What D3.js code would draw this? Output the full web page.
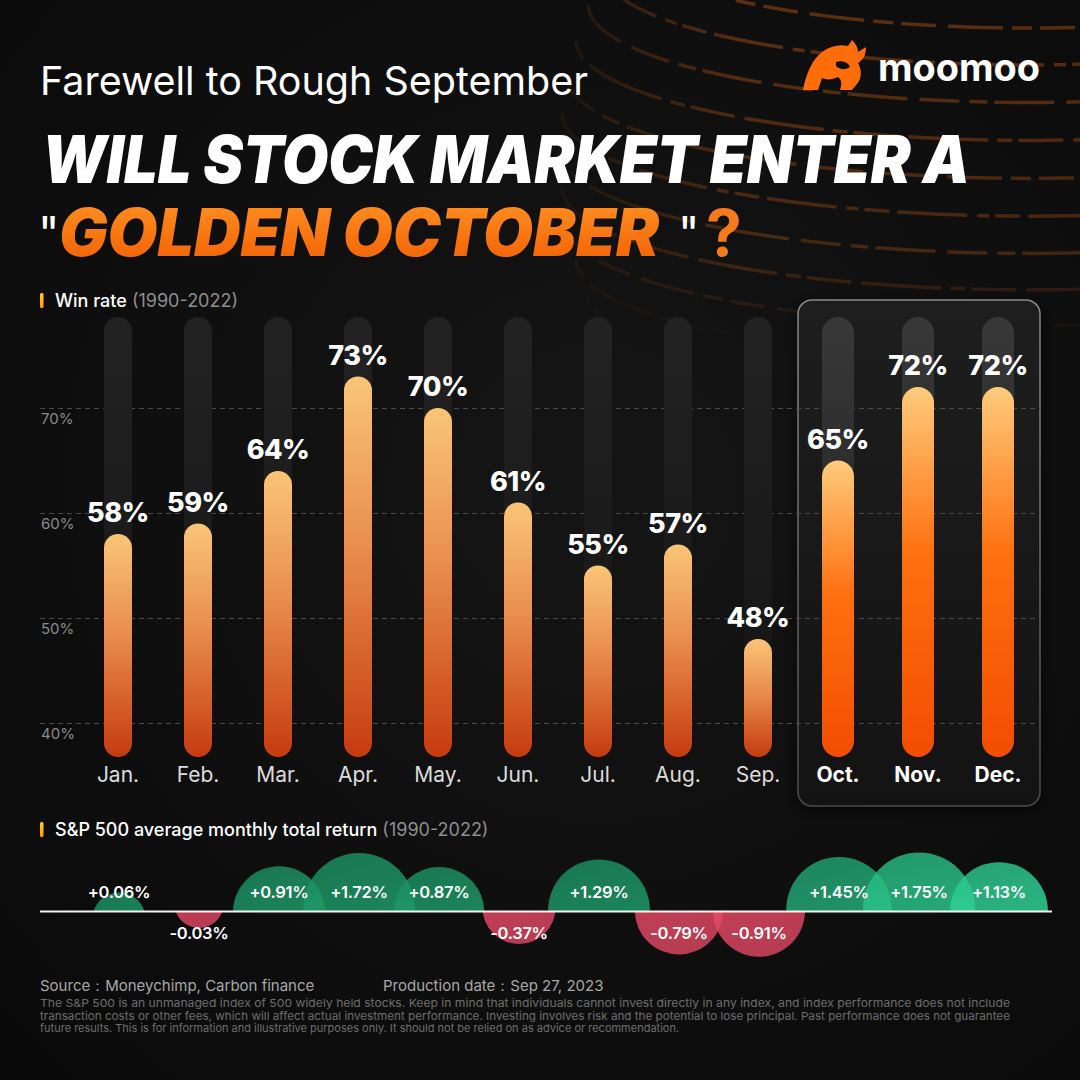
<!DOCTYPE html>
<html>
<head>
<meta charset="utf-8">
<script src="https://cdn.jsdelivr.net/npm/d3@7/dist/d3.min.js"></script>
<style>
  html, body { margin: 0; padding: 0; background: #0d0d0d; }
  svg { display: block; }
  text { font-family: Inter, "Noto Sans", sans-serif; }
</style>
</head>
<body>
<svg id="chart" width="1080" height="1080"></svg>
<script>
// ---------------- DATA ----------------
const months = ["Jan.", "Feb.", "Mar.", "Apr.", "May.", "Jun.", "Jul.", "Aug.", "Sep.", "Oct.", "Nov.", "Dec."];
const winRate = [58, 59, 64, 73, 70, 61, 55, 57, 48, 65, 72, 72];
const monthlyReturn = [0.06, -0.03, 0.91, 1.72, 0.87, -0.37, 1.29, -0.79, -0.91, 1.45, 1.75, 1.13];
const yTicks = [40, 50, 60, 70];
const highlightMonths = ["Oct.", "Nov.", "Dec."];
const subtitle = "Farewell to Rough September";
const titleLine1 = "WILL STOCK MARKET ENTER A";
const titleGolden = "GOLDEN OCTOBER";
const winRateTitle = "Win rate";
const spTitle = "S&P 500 average monthly total return";
const period = "(1990-2022)";
const sourceText = "Source\uFF1AMoneychimp, Carbon finance";
const dateText = "Production date\uFF1ASep 27, 2023";
const disclaimer = [
  "The S&P 500 is an unmanaged index of 500 widely held stocks. Keep in mind that individuals cannot invest directly in any index, and index performance does not include",
  "transaction costs or other fees, which will affect actual investment performance. Investing involves risk and the potential to lose principal. Past performance does not guarantee",
  "future results. This is for information and illustrative purposes only. It should not be relied on as advice or recommendation."
];

// ---------------- SETUP ----------------
const svg = d3.select("#chart");
const W = 1080, H = 1080;
const defs = svg.append("defs");

// background
const bgGrad = defs.append("radialGradient").attr("id", "bgGrad")
  .attr("cx", "55%").attr("cy", "45%").attr("r", "75%");
bgGrad.append("stop").attr("offset", "0%").attr("stop-color", "#151515");
bgGrad.append("stop").attr("offset", "100%").attr("stop-color", "#0a0a0a");
svg.append("rect").attr("width", W).attr("height", H).attr("fill", "url(#bgGrad)");

// decorative globe lines (top-right)
const fadeGrad = defs.append("linearGradient").attr("id", "fadeGrad")
  .attr("gradientUnits", "userSpaceOnUse").attr("x1", 0).attr("y1", 0).attr("x2", 0).attr("y2", 340);
fadeGrad.append("stop").attr("offset", "0%").attr("stop-color", "#fff").attr("stop-opacity", 1);
fadeGrad.append("stop").attr("offset", "75%").attr("stop-color", "#fff").attr("stop-opacity", 0.7);
fadeGrad.append("stop").attr("offset", "100%").attr("stop-color", "#fff").attr("stop-opacity", 0);
const fadeGradX = defs.append("linearGradient").attr("id", "fadeGradX")
  .attr("gradientUnits", "userSpaceOnUse").attr("x1", 520).attr("y1", 0).attr("x2", 740).attr("y2", 0);
fadeGradX.append("stop").attr("offset", "0%").attr("stop-color", "#fff").attr("stop-opacity", 0);
fadeGradX.append("stop").attr("offset", "100%").attr("stop-color", "#fff").attr("stop-opacity", 1);
const mask = defs.append("mask").attr("id", "globeMask");
mask.append("rect").attr("width", W).attr("height", 340).attr("fill", "url(#fadeGrad)");
const mask2 = defs.append("mask").attr("id", "globeMaskX");
mask2.append("rect").attr("width", W).attr("height", 340).attr("fill", "url(#fadeGradX)");

const globe = svg.append("g").attr("mask", "url(#globeMask)")
  .append("g").attr("mask", "url(#globeMaskX)");
const gcx = 1030, gcy = 150, gR = 470;
const dashes = ["40 10 18 7 60 12", "25 8 70 10 12 6", "55 9 20 8 35 12", "15 6 45 10 80 9"];
d3.range(-40, 86, 5).forEach((lat, i) => {
  const rad = lat * Math.PI / 180;
  const rx = gR * Math.cos(rad);
  const ry = rx * 0.22;
  const cy = gcy - gR * Math.sin(rad) * 0.9;
  const path = d3.path();
  const N = 60;
  for (let k = 0; k <= N; k++) {
    const a = Math.PI - (Math.PI * 0.75) * k / N;
    const px = gcx + rx * Math.cos(a);
    const py = cy + ry * Math.sin(a);
    if (k === 0) path.moveTo(px, py); else path.lineTo(px, py);
  }
  globe.append("path").attr("d", path.toString())
    .attr("fill", "none").attr("stroke", "#9a4a14").attr("stroke-opacity", 0.55)
    .attr("stroke-width", 3.5).attr("stroke-dasharray", dashes[i % dashes.length])
    .attr("stroke-dashoffset", (i * 37) % 90);
});

// ---------------- TITLES ----------------
svg.append("text").attr("x", 40).attr("y", 95)
  .attr("font-size", 40).attr("font-weight", 400).attr("fill", "#fff")
  .attr("textLength", 548).attr("lengthAdjust", "spacingAndGlyphs")
  .text(subtitle);

svg.append("text").attr("x", 42).attr("y", 183)
  .attr("font-size", 66).attr("font-weight", 900).attr("font-style", "italic").attr("fill", "#fff")
  .attr("textLength", 928).attr("lengthAdjust", "spacingAndGlyphs")
  .text(titleLine1);

const goldGrad = defs.append("linearGradient").attr("id", "goldGrad")
  .attr("x1", 0).attr("y1", 0).attr("x2", 0).attr("y2", 1);
goldGrad.append("stop").attr("offset", "0%").attr("stop-color", "#ff9526");
goldGrad.append("stop").attr("offset", "100%").attr("stop-color", "#f25c00");

svg.append("text").attr("x", 38).attr("y", 250)
  .attr("font-size", 46).attr("font-weight", 400).attr("fill", "#fff").text("\"");
svg.append("text").attr("x", 59).attr("y", 256)
  .attr("font-size", 66).attr("font-weight", 900).attr("font-style", "italic").attr("fill", "url(#goldGrad)")
  .attr("textLength", 600).attr("lengthAdjust", "spacingAndGlyphs")
  .text(titleGolden);
svg.append("text").attr("x", 678).attr("y", 250)
  .attr("font-size", 46).attr("font-weight", 400).attr("fill", "#fff").text("\"");
svg.append("text").attr("x", 706).attr("y", 256)
  .attr("font-size", 64).attr("font-weight", 700).attr("fill", "#f47a1c").text("?");

// ---------------- LOGO ----------------
const logo = svg.append("g");
logo.append("path")
  .attr("d", "M803,90 C806,74 812,60 822,52 C830,46 840,44 848,46 L852,40 C856,44 858,48 858,52 L866,47 C866,55 863,60 858,63 C862,70 862,78 857,84 L852,90 L840,90 C842,84 842,80 838,77 C832,80 826,80 822,78 L818,90 Z")
  .attr("fill", "#ff6d0a");
logo.append("path")
  .attr("d", "M836,62 C842,60 848,62 850,67 C846,70 840,70 836,66 Z")
  .attr("fill", "#0d0d0d");
logo.append("text").attr("x", 878).attr("y", 81)
  .attr("font-size", 38).attr("font-weight", 700).attr("fill", "#fff")
  .attr("textLength", 162).attr("lengthAdjust", "spacingAndGlyphs")
  .text("moomoo");

// ---------------- SECTION HEADERS ----------------
const markGrad = defs.append("linearGradient").attr("id", "markGrad")
  .attr("x1", 0).attr("y1", 0).attr("x2", 0).attr("y2", 1);
markGrad.append("stop").attr("offset", "0%").attr("stop-color", "#ffd21a");
markGrad.append("stop").attr("offset", "100%").attr("stop-color", "#ff9a00");

function header(yBase, main) {
  svg.append("rect").attr("x", 40).attr("y", yBase - 14).attr("width", 3.5).attr("height", 15)
    .attr("rx", 1.5).attr("fill", "url(#markGrad)");
  const t = svg.append("text").attr("x", 55).attr("y", yBase)
    .attr("font-size", 18).attr("font-weight", 500).attr("fill", "#fff");
  t.append("tspan").text(main);
  t.append("tspan").attr("fill", "#8e8e8e").attr("font-weight", 400).text(" " + period);
}
header(307, winRateTitle);
header(836, spTitle);

// ---------------- BAR CHART ----------------
const x = d3.scaleBand().domain(months).range([78, 1038]).padding(0);
const y = d3.scaleLinear().domain([40, 70]).range([723, 408]);
const barBottom = 757;
const trackTop = 317;
const isHi = m => highlightMonths.includes(m);
const barW = m => isHi(m) ? 32 : 28;
const cx = m => x(m) + x.bandwidth() / 2;

// highlight box
const boxFill = defs.append("linearGradient").attr("id", "boxFill")
  .attr("x1", 0).attr("y1", 0).attr("x2", 0).attr("y2", 1);
boxFill.append("stop").attr("offset", "0%").attr("stop-color", "#ffffff").attr("stop-opacity", 0.07);
boxFill.append("stop").attr("offset", "100%").attr("stop-color", "#ffffff").attr("stop-opacity", 0.025);
const boxStroke = defs.append("linearGradient").attr("id", "boxStroke")
  .attr("x1", 0).attr("y1", 0).attr("x2", 0).attr("y2", 1);
boxStroke.append("stop").attr("offset", "0%").attr("stop-color", "#8a8a8a");
boxStroke.append("stop").attr("offset", "100%").attr("stop-color", "#4a4a4a");
const shadow = defs.append("filter").attr("id", "boxShadow")
  .attr("x", "-20%").attr("y", "-10%").attr("width", "140%").attr("height", "120%");
shadow.append("feDropShadow").attr("dx", 0).attr("dy", 4).attr("stdDeviation", 8)
  .attr("flood-color", "#000").attr("flood-opacity", 0.7);

const hiFirst = highlightMonths[0], hiLast = highlightMonths[highlightMonths.length - 1];
svg.append("rect")
  .attr("x", x(hiFirst)).attr("y", 300)
  .attr("width", x(hiLast) + x.bandwidth() - x(hiFirst) + 2).attr("height", 506)
  .attr("rx", 14)
  .attr("fill", "#111").attr("filter", "url(#boxShadow)");
svg.append("rect")
  .attr("x", x(hiFirst)).attr("y", 300)
  .attr("width", x(hiLast) + x.bandwidth() - x(hiFirst) + 2).attr("height", 506)
  .attr("rx", 14)
  .attr("fill", "url(#boxFill)").attr("stroke", "url(#boxStroke)").attr("stroke-width", 1.5);

// grid + y labels via axis
const yAxis = svg.append("g").attr("transform", "translate(40,0)")
  .call(d3.axisRight(y).tickValues(yTicks).tickSize(1000).tickFormat(d => d + "%"));
yAxis.select(".domain").remove();
yAxis.selectAll(".tick line").attr("stroke", "#4a4a4a").attr("stroke-dasharray", "5,4").attr("stroke-width", 1);
yAxis.selectAll(".tick text").attr("x", 1).attr("dy", 15)
  .attr("fill", "#8a8a8a").attr("font-size", 15).attr("text-anchor", "start")
  .attr("font-family", "Inter, sans-serif");

// tracks
const trackGrad = defs.append("linearGradient").attr("id", "trackGrad")
  .attr("x1", 0).attr("y1", 0).attr("x2", 0).attr("y2", 1);
trackGrad.append("stop").attr("offset", "0%").attr("stop-color", "#222");
trackGrad.append("stop").attr("offset", "60%").attr("stop-color", "#1a1a1a");
trackGrad.append("stop").attr("offset", "100%").attr("stop-color", "#141414").attr("stop-opacity", 0.3);
const trackGradHi = defs.append("linearGradient").attr("id", "trackGradHi")
  .attr("x1", 0).attr("y1", 0).attr("x2", 0).attr("y2", 1);
trackGradHi.append("stop").attr("offset", "0%").attr("stop-color", "#383838");
trackGradHi.append("stop").attr("offset", "60%").attr("stop-color", "#262626");
trackGradHi.append("stop").attr("offset", "100%").attr("stop-color", "#1a1a1a").attr("stop-opacity", 0.4);

svg.append("g").selectAll("rect").data(months).join("rect")
  .attr("x", m => cx(m) - barW(m) / 2).attr("width", barW)
  .attr("y", trackTop).attr("height", barBottom - trackTop)
  .attr("rx", m => barW(m) / 2)
  .attr("fill", m => isHi(m) ? "url(#trackGradHi)" : "url(#trackGrad)");

// bar gradients
const barGrad = defs.append("linearGradient").attr("id", "barGrad")
  .attr("x1", 0).attr("y1", 0).attr("x2", 0).attr("y2", 1);
barGrad.append("stop").attr("offset", "0%").attr("stop-color", "#f9c576");
barGrad.append("stop").attr("offset", "45%").attr("stop-color", "#e98d4c");
barGrad.append("stop").attr("offset", "100%").attr("stop-color", "#c63b0e");
const barGradHi = defs.append("linearGradient").attr("id", "barGradHi")
  .attr("x1", 0).attr("y1", 0).attr("x2", 0).attr("y2", 1);
barGradHi.append("stop").attr("offset", "0%").attr("stop-color", "#fecb7c");
barGradHi.append("stop").attr("offset", "45%").attr("stop-color", "#ff7010");
barGradHi.append("stop").attr("offset", "100%").attr("stop-color", "#f24d00");

const barData = months.map((m, i) => ({ m, v: winRate[i] }));
svg.append("g").selectAll("rect").data(barData).join("rect")
  .attr("x", d => cx(d.m) - barW(d.m) / 2).attr("width", d => barW(d.m))
  .attr("y", d => y(d.v)).attr("height", d => barBottom - y(d.v))
  .attr("rx", d => barW(d.m) / 2)
  .attr("fill", d => isHi(d.m) ? "url(#barGradHi)" : "url(#barGrad)");

svg.append("g").selectAll("text").data(barData).join("text")
  .attr("x", d => cx(d.m)).attr("y", d => y(d.v) - 12)
  .attr("text-anchor", "middle").attr("font-size", 27).attr("font-weight", 800)
  .attr("fill", "#fff").attr("letter-spacing", -0.5)
  .text(d => d.v + "%");

// month labels via axis
const xAxis = svg.append("g").attr("transform", "translate(0,767)")
  .call(d3.axisBottom(x).tickSize(0).tickPadding(0));
xAxis.select(".domain").remove();
xAxis.selectAll(".tick text")
  .attr("font-size", 21).attr("font-family", "Inter, sans-serif")
  .attr("font-weight", m => isHi(m) ? 700 : 400)
  .attr("fill", m => isHi(m) ? "#fff" : "#dcdcdc");

// ---------------- BUBBLE STRIP ----------------
const lineY = 911.5;
const rScale = d3.scaleSqrt().domain([0, 1.75]).range([20, 56]);
const hScale = d3.scaleSqrt().domain([0, 1.75]).range([10, 59]);
const greenCols = ["#1fa570", "#1fa570", "#1fa570", "#1fa570", "#1fa570", "#1fa570", "#1fa570", "#1fa570", "#1fa570", "#27b982", "#2ed494", "#33e3a3"];
const redCol = "#f24c6a";

defs.append("clipPath").attr("id", "clipUp").append("rect")
  .attr("x", 0).attr("y", 780).attr("width", W).attr("height", lineY - 780);
defs.append("clipPath").attr("id", "clipDown").append("rect")
  .attr("x", 0).attr("y", lineY).attr("width", W).attr("height", 80);

const retData = months.map((m, i) => ({ m, v: monthlyReturn[i], i }));
retData.forEach(d => {
  const g = defs.append("linearGradient").attr("id", "bub" + d.i)
    .attr("x1", 0).attr("y1", 0).attr("x2", 0.3).attr("y2", 1);
  const c = d.v >= 0 ? greenCols[d.i] : redCol;
  if (d.v >= 0) {
    g.append("stop").attr("offset", "0%").attr("stop-color", d3.color(c).darker(0.45));
    g.append("stop").attr("offset", "100%").attr("stop-color", c);
  } else {
    g.append("stop").attr("offset", "0%").attr("stop-color", c);
    g.append("stop").attr("offset", "100%").attr("stop-color", d3.color(c).darker(0.25));
  }
});

const bubG = svg.append("g");
bubG.selectAll("circle").data(retData).join("circle")
  .attr("clip-path", d => d.v >= 0 ? "url(#clipUp)" : "url(#clipDown)")
  .attr("cx", d => cx(d.m) + 1)
  .attr("cy", d => {
    const r = rScale(Math.abs(d.v)), h = hScale(Math.abs(d.v));
    return d.v >= 0 ? lineY + (r - h) : lineY - (r - h);
  })
  .attr("r", d => rScale(Math.abs(d.v)))
  .attr("fill", d => "url(#bub" + d.i + ")")
  .attr("fill-opacity", 0.82);

svg.append("line").attr("x1", 40).attr("x2", 1052).attr("y1", lineY).attr("y2", lineY)
  .attr("stroke", "#f2f2f2").attr("stroke-width", 2);

svg.append("g").selectAll("text").data(retData).join("text")
  .attr("x", d => cx(d.m) + 1)
  .attr("y", d => d.v >= 0 ? 898 : 939)
  .attr("text-anchor", "middle").attr("font-size", 16.5).attr("font-weight", 600)
  .attr("fill", "#fff").attr("letter-spacing", -0.3)
  .text(d => (d.v >= 0 ? "+" : "") + d.v.toFixed(2) + "%");

// ---------------- FOOTER ----------------
svg.append("text").attr("x", 40).attr("y", 991).attr("font-size", 15).attr("fill", "#a8a8a8").text(sourceText);
svg.append("text").attr("x", 383).attr("y", 991).attr("font-size", 15).attr("fill", "#a8a8a8").text(dateText);
const discLen = [970, 970, null];
disclaimer.forEach((line, i) => {
  const t = svg.append("text").attr("x", 40).attr("y", 1007 + i * 12.5)
    .attr("font-size", 11).attr("fill", "#6e6e6e").text(line);
  if (discLen[i]) t.attr("textLength", discLen[i]).attr("lengthAdjust", "spacingAndGlyphs");
});
</script>
</body>
</html>
